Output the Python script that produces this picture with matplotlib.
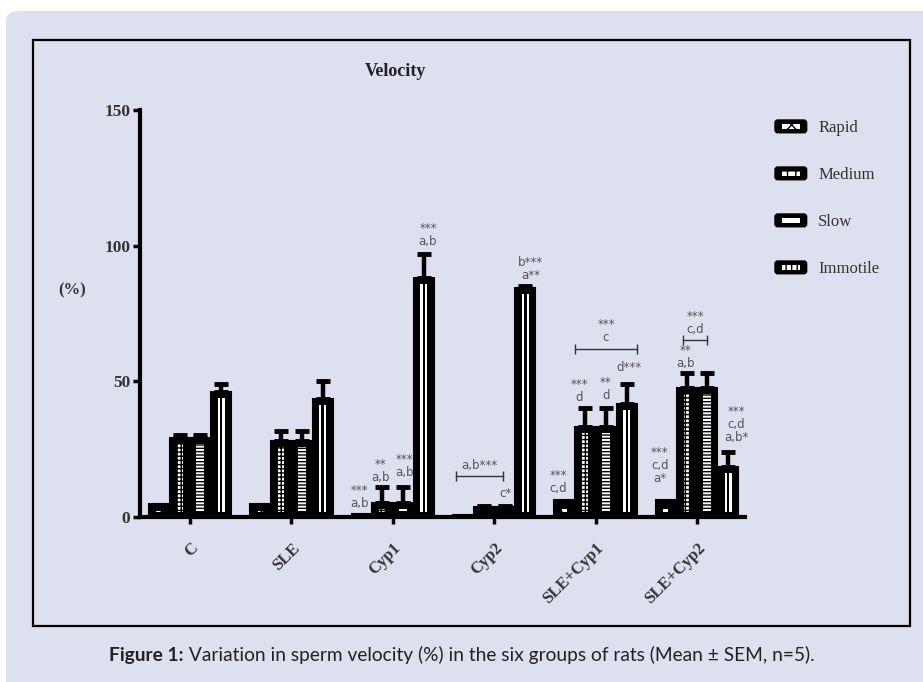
import numpy as np
import matplotlib
matplotlib.use("Agg")
import matplotlib.pyplot as plt
from matplotlib.patches import FancyBboxPatch, Rectangle, Patch
from matplotlib.offsetbox import TextArea, HPacker, AnchoredOffsetbox
from matplotlib.legend_handler import HandlerBase

# ---------------- data ----------------
groups = ["C", "SLE", "Cyp1", "Cyp2", "SLE+Cyp1", "SLE+Cyp2"]
series = ["Rapid", "Medium", "Slow", "Immotile"]
rapid = [4.5, 4.5, 1.0, 0.5, 6.0, 6.0]
medium = [29.0, 28.0, 5.0, 3.5, 33.0, 47.5]
slow = [29.0, 28.0, 5.0, 3.5, 33.0, 47.5]
immotile = [46.0, 43.5, 88.0, 84.5, 41.5, 18.5]
rapid_sem = [0.0, 0.0, 0.0, 0.0, 0.0, 0.0]
medium_sem = [1.0, 3.5, 6.0, 0.3, 7.0, 5.5]
slow_sem = [1.0, 3.5, 6.0, 0.3, 7.0, 5.5]
immotile_sem = [3.0, 6.5, 9.0, 0.5, 7.5, 5.5]
yticks = [0, 50, 100, 150]

# annotations: (group, series, text, dx_px, dy_px)
labels = [
    (2, 0, "***\na,b", -2, 4),
    (2, 1, "**\na,b", -2, 3),
    (2, 2, "***\na,b", 1, 8),
    (2, 3, "***\na,b", 4, 6),
    (3, 2, "c*", 1, 6),
    (3, 3, "b***\na**", 5, 4),
    (4, 0, "***\nc,d", -6, 5),
    (4, 1, "***\nd", -6, 4),
    (4, 2, "**\nd", 0, 6),
    (4, 3, "d***", 2, 10),
    (5, 0, "***\nc,d\na*", -6, 15),
    (5, 1, "**\na,b", -1, 3),
    (5, 3, "***\nc,d\na,b*", 8, 8),
]
# brackets: (group, series_from, edge_offset, series_to, edge_offset, y, text)
brackets = [
    (3, 0, -0.35, 2, -0.1, 15.0, "a,b***"),
    (4, 1, -0.5, 3, 0.5, 62.0, "***\nc"),
    (5, 1, -0.2, 2, 0.0, 65.0, "***\nc,d"),
]

values = [rapid, medium, slow, immotile]
sems = [rapid_sem, medium_sem, slow_sem, immotile_sem]

# ---------------- figure ----------------
W, H = 923, 682
fig = plt.figure(figsize=(W / 100, H / 100), dpi=100)
fig.patch.set_facecolor("white")
LAV = "#DCE0EF"
fig.patches.append(FancyBboxPatch((6 / W, -0.1), 1.2, 1 - 11 / H + 0.1,
                                  boxstyle="round,pad=0,rounding_size=0.015",
                                  transform=fig.transFigure, facecolor=LAV,
                                  edgecolor="none", zorder=-3))
fig.patches.append(Rectangle((33 / W, 1 - 626 / H), 877 / W, 586 / H,
                             transform=fig.transFigure, facecolor="none",
                             edgecolor="black", lw=1.6, zorder=-2))

px = 101.4  # pixels per group unit
x0px, x1px = 140, 745
ax = fig.add_axes([x0px / W, 1 - 516.7 / H, (x1px - x0px) / W, (516.7 - 110) / H])
ax.set_facecolor("none")
ax.set_xlim((x0px - 190) / px, (x1px - 190) / px)
ax.set_ylim(0, 150)

bw = 20 / px
offs = (np.arange(4) - 1.5) * 0.205
xg = np.arange(len(groups))

for si in range(4):
    v = np.array(values[si])
    xs = xg + offs[si]
    ax.bar(xs, v, width=bw, color="black", edgecolor="black", lw=1.5, zorder=3)
    # inner patterns
    ib = 1.6
    it = np.clip(v - 2.2, 0, None)
    mask = it > ib + 0.5
    if si == 0:
        ax.bar(xs[mask], (it - ib)[mask] * 0.5, bottom=ib, width=5 / px,
               color="white", edgecolor="black", lw=0, hatch="xx", zorder=4)
    elif si == 1:
        ax.bar(xs[mask], (it - ib)[mask], bottom=ib, width=6 / px,
               color="white", edgecolor="black", lw=0, hatch="++++", zorder=4)
    elif si == 2:
        ax.bar(xs[mask], (it - ib)[mask], bottom=ib, width=8 / px,
               color="white", edgecolor="black", lw=0, hatch="-----", zorder=4)
    else:
        ax.bar(xs[mask], (it - ib)[mask], bottom=ib, width=7 / px,
               color="white", lw=0, zorder=4)
        ax.bar(xs[mask], (it - ib)[mask], bottom=ib, width=2.5 / px,
               color="black", lw=0, zorder=5)
    s = np.array(sems[si])
    m = s > 0
    ax.errorbar(xs[m], v[m], yerr=[np.zeros(m.sum()), s[m]], fmt="none",
                ecolor="black", elinewidth=3.2, capsize=5, capthick=3.5, zorder=2)

ann_kw = dict(ha="center", va="bottom", fontsize=8.5, color="#555555",
              linespacing=1.0, family="DejaVu Sans", textcoords="offset points",
              annotation_clip=False)
for g, si, txt, dx, dy in labels:
    xb = g + offs[si]
    top = values[si][g] + sems[si][g]
    ax.annotate(txt, xy=(xb, top), xytext=(dx * 0.72, dy * 0.72), **ann_kw)

for g, s1, e1, s2, e2, yb, txt in brackets:
    xa = g + offs[s1] + e1 * bw
    xb2 = g + offs[s2] + e2 * bw
    ax.plot([xa, xb2], [yb, yb], color="#333333", lw=1.0, marker="|",
            markersize=7, mew=1.0, zorder=3, clip_on=False)
    ax.annotate(txt, xy=((xa + xb2) / 2, yb), xytext=(0, 3), **ann_kw)

# axes styling
for sp in ["top", "right"]:
    ax.spines[sp].set_visible(False)
for sp in ["left", "bottom"]:
    ax.spines[sp].set_linewidth(3)
ax.set_yticks(yticks)
ax.set_xticks(xg)
ax.tick_params(axis="both", length=5, width=2.5, color="black")
serif = ["Liberation Serif", "DejaVu Serif"]
ax.set_yticklabels([str(t) for t in yticks], fontsize=12.5, fontweight="bold",
                   family=serif, color="#333333")
ax.set_xticklabels(groups, rotation=45, ha="right", va="top", rotation_mode="anchor",
                   fontsize=12, fontweight="bold", family=serif, color="#333333")
ax.tick_params(axis="x", pad=12)
ax.tick_params(axis="y", pad=2)

fig.text(395 / W, 1 - 72 / H, "Velocity", ha="center", va="center", fontsize=13,
         fontweight="bold", family=serif, color="#222222")
fig.text(72 / W, 1 - 290 / H, "(%)", ha="center", va="center", fontsize=12,
         fontweight="bold", family=serif, color="#333333")


# legend
class BoxHandler(HandlerBase):
    def create_artists(self, legend, orig_handle, xdescent, ydescent, width, height,
                       fontsize, trans):
        outer = FancyBboxPatch((-xdescent, -ydescent), width, height,
                               boxstyle="round,pad=0,rounding_size=2",
                               facecolor="black", edgecolor="black", lw=1, transform=trans)
        iw, ih = width * 0.55, height * 0.4
        inner = Rectangle((-xdescent + (width - iw) / 2, -ydescent + (height - ih) / 2),
                          iw, ih, facecolor="white", edgecolor="black", lw=0,
                          hatch=orig_handle.get_hatch(), transform=trans)
        return [outer, inner]


hatches = ["xx", "++", "-", "|||"]
handles = [Patch(facecolor="black", hatch=h) for h in hatches]
leg = fig.legend(handles, series, loc="upper left", bbox_to_anchor=(760 / W, 1 - 105 / H),
                 frameon=False, labelspacing=1.85, handlelength=1.9, handleheight=0.8,
                 handletextpad=0.7, prop={"family": "Liberation Serif", "size": 12},
                 handler_map={Patch: BoxHandler()})
for t in leg.get_texts():
    t.set_color("#333333")

# caption
cap_font = "Lato"
t1 = TextArea("Figure 1:", textprops=dict(fontsize=13.8, fontweight="bold", family=cap_font,
                                           color="#222222"))
t2 = TextArea(" Variation in sperm velocity (%) in the six groups of rats (Mean \u00b1 SEM, n=5).",
              textprops=dict(fontsize=13.8, family=cap_font, color="#222222"))
box = HPacker(children=[t1, t2], align="baseline", pad=0, sep=0)
anch = AnchoredOffsetbox(loc="center", child=box, frameon=False,
                         bbox_to_anchor=(462 / W, 1 - 655 / H),
                         bbox_transform=fig.transFigure, pad=0, borderpad=0)
fig.add_artist(anch)

fig.savefig("out.png", dpi=100, facecolor=fig.get_facecolor())
